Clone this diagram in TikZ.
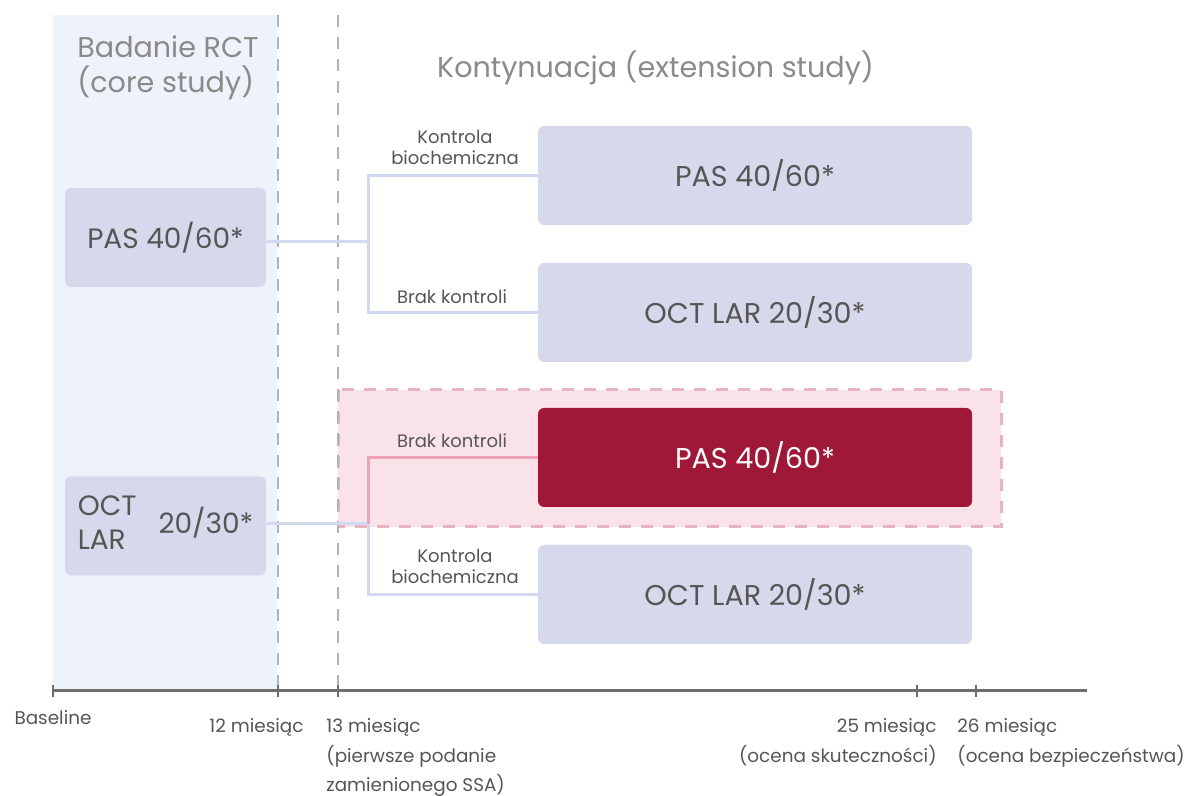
\documentclass[tikz,border=0pt]{standalone}
\usepackage{fontspec}
\setmainfont{Poppins}
\usetikzlibrary{positioning}
\definecolor{boxblue}{HTML}{D6D9EC}
\definecolor{colblue}{HTML}{EEF2FA}
\definecolor{linkblue}{HTML}{D3DAF0}
\definecolor{wine}{HTML}{A01838}
\definecolor{rosefill}{HTML}{FAE3E8}
\definecolor{rosedash}{HTML}{E6B3C0}
\definecolor{rosepink}{HTML}{EDA3B5}
\definecolor{txtgray}{HTML}{555555}
\definecolor{headgray}{HTML}{8A8A8A}
\definecolor{axisgray}{HTML}{6E6E6E}

\begin{document}
\begin{tikzpicture}[x=0.5pt, y=-0.5pt,
  armbox/.style={rectangle, rounded corners=3pt, fill=boxblue, text=txtgray, inner sep=0pt,
    minimum height=49.5pt, font=\fontsize{14}{17}\selectfont},
  leftarm/.style={armbox, minimum width=100.5pt},
  rightarm/.style={armbox, minimum width=217pt, font=\fontsize{14.3}{17}\selectfont},
  link/.style={draw=linkblue, line width=1.5pt},
  pinklink/.style={draw=rosepink, line width=1.5pt},
  lab/.style={text=txtgray, align=center, font=\fontsize{9}{10.5}\selectfont},
  ticklab/.style={text=txtgray, inner sep=0pt, font=\fontsize{9.2}{14.8}\selectfont},
  head/.style={text=headgray, font=\fontsize{14.3}{17.5}\selectfont},
  phase/.style={draw=gray!60, line width=1pt, dash pattern=on 6pt off 5pt}]

\useasboundingbox (0,0) rectangle (1190,796);

% backgrounds
\fill[colblue] (53,15) rectangle (277,690);
\fill[rosefill] (338,390) rectangle (1001,527);
\draw[rosedash, line width=1.5pt, dash pattern=on 6pt off 5pt] (338,390) rectangle (1001,527);

% phase borders
\coordinate (p12top) at (278,15);
\coordinate (p13top) at (338,15);
\coordinate (p12) at (278,691);
\coordinate (p13) at (338,691);
\draw[phase] (p12top) -- (p12);
\draw[phase] (p13top) -- (p13);

% headers
\node[head, anchor=west, align=left, inner sep=0pt] (core) at (77,67.5) {Badanie RCT\\(core study)};
\node[head] (ext) at (655.5,68) {Kontynuacja (extension study)};

% arms
\node[leftarm] (pasL) at (165.5,237.5) {PAS 40/60*};
\node[leftarm] (octL) at (165.5,526) {\begin{tabular}{@{}l@{}}OCT\\LAR\end{tabular}\hspace{11pt}20/30*};
\node[rightarm] (pasA) at (755,175.5) {PAS 40/60*};
\node[rightarm] (octA) at (755,312.5) {OCT LAR 20/30*};
\node[rightarm, fill=wine, text=white] (pasR) at (755,457.5) {PAS 40/60*};
\node[rightarm] (octB) at (755,594.5) {OCT LAR 20/30*};

% connectors
\coordinate (splitA) at (368,242);
\coordinate (splitB) at (368,524);
\draw[link] (pasL.east |- splitA) -- (splitA);
\draw[link] (pasA.west) -| (splitA) |- (octA.west);
\draw[link] (octL.east |- splitB) -- (splitB);
\draw[pinklink] (pasR.west) -| (splitB);
\draw[link] (octB.west) -| (splitB);

\node[lab] (kbA) at (455,147.5) {Kontrola\\biochemiczna};
\node[lab] (bkA) at (452,297) {Brak kontroli};
\node[lab] (bkB) at (452,441) {Brak kontroli};
\node[lab] (kbB) at (455,566.5) {Kontrola\\biochemiczna};

% time axis
\coordinate (t0) at (53,691);
\coordinate (t25) at (917,691);
\coordinate (t26) at (976,691);
\coordinate (tend) at (1087,691);
\draw[axisgray, line width=1.5pt] (t0) -- (tend);
\foreach \t in {t0,p12,p13,t25,t26}
  \draw[axisgray, line width=1pt] (\t) ++(0,-6) -- ++(0,12);

\node[ticklab] (l0) at (53,718) {Baseline};
\node[ticklab] (l12) at (256.5,727) {12 miesiąc};
\node[ticklab, anchor=north west, align=left] (l13) at (326,718) {13 miesiąc\\(pierwsze podanie\\zamienionego SSA)};
\node[ticklab, anchor=north east, align=right] (l25) at (937,718) {25 miesiąc\\(ocena skuteczności)};
\node[ticklab, anchor=north west, align=left] (l26) at (957,718) {26 miesiąc\\(ocena bezpieczeństwa)};
\end{tikzpicture}
\end{document}
